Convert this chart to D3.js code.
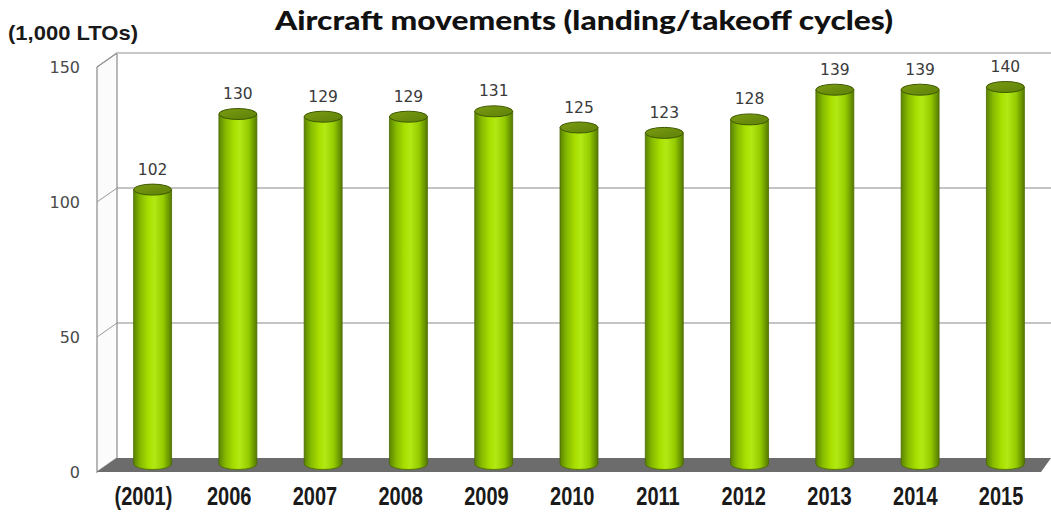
<!DOCTYPE html>
<html>
<head>
<meta charset="utf-8">
<script src="https://cdn.jsdelivr.net/npm/d3@7"></script>
<style>
  html, body { margin: 0; padding: 0; background: #fff; }
  svg { display: block; }
</style>
</head>
<body>
<svg id="chart" width="1051" height="515"></svg>
<script>
// Aircraft movements, thousands of landing/takeoff cycles per year
const years = ["(2001)", "2006", "2007", "2008", "2009", "2010", "2011", "2012", "2013", "2014", "2015"];
const ltos = [102, 130, 129, 129, 131, 125, 123, 128, 139, 139, 140];
const yTicks = [0, 50, 100, 150];

const svg = d3.select("#chart");
const W = 1051;

// depth offset of the 3D box (back wall relative to front edge)
const depthX = 20, depthY = -14;

// scale on the back wall
const yBack = d3.scaleLinear().domain([0, 150]).range([458, 53]);
// cylinders stand at mid depth
const yMid = v => yBack(v) - depthY / 2;
const x = d3.scaleBand().domain(years).range([110, 1048]).paddingInner(0.555).paddingOuter(0.277);
// category labels sit on the front edge of the floor
const xFront = d3.scaleBand().domain(years).range([100.6, 1043.9]);

const backLeft = 117, frontLeft = backLeft - depthX;

const defs = svg.append("defs");
const grad = defs.append("linearGradient").attr("id", "cyl").attr("x1", "0").attr("x2", "1").attr("y1", "0").attr("y2", "0");
[["0%", "#5c8400"], ["18%", "#86bb00"], ["40%", "#a9e000"], ["55%", "#b2e814"], ["78%", "#94cc00"], ["100%", "#557a00"]]
  .forEach(([o, c]) => grad.append("stop").attr("offset", o).attr("stop-color", c));
const capGrad = defs.append("linearGradient").attr("id", "cap").attr("x1", "0").attr("x2", "1").attr("y1", "0").attr("y2", "1");
[["0%", "#7a9c12"], ["100%", "#5e8008"]].forEach(([o, c]) => capGrad.append("stop").attr("offset", o).attr("stop-color", c));

// side wall (left)
svg.append("path")
  .attr("d", `M${frontLeft},${yBack(0) - depthY}L${frontLeft},${yBack(150) - depthY}L${backLeft},${yBack(150)}L${backLeft},${yBack(0)}Z`)
  .attr("fill", "#fbfbfb").attr("stroke", "#8a8a8a").attr("stroke-width", 1.2);

// back wall gridlines and diagonals on side wall
yTicks.forEach(t => {
  if (t > 0) {
    svg.append("line").attr("x1", backLeft).attr("x2", W).attr("y1", yBack(t)).attr("y2", yBack(t))
      .attr("stroke", t === 150 ? "#c8c8c8" : "#8a8a8a").attr("stroke-width", t === 150 ? 2 : 1.2);
    svg.append("line").attr("x1", frontLeft).attr("x2", backLeft).attr("y1", yBack(t) - depthY).attr("y2", yBack(t))
      .attr("stroke", "#9a9a9a").attr("stroke-width", 1);
  }
});

// floor
svg.append("path")
  .attr("d", `M${frontLeft},${yBack(0) - depthY}L${backLeft},${yBack(0)}L${W},${yBack(0)}L${W - 10},${yBack(0) - depthY}Z`)
  .attr("fill", "#6c6c6c");

// y tick labels
svg.append("g").selectAll("text").data(yTicks).join("text")
  .attr("x", 80).attr("y", d => yBack(d) - depthY + 6)
  .attr("text-anchor", "end")
  .attr("font-family", "DejaVu Sans, sans-serif").attr("font-size", 16).attr("fill", "#4a4a4a")
  .text(d => d);

// cylinders
const rx = x.bandwidth() / 2, ry = 5.5;
const g = svg.append("g").selectAll("g").data(years).join("g");
g.append("path")
  .attr("d", (d, i) => {
    const cx = x(d) + rx, top = yMid(ltos[i]), bot = yMid(0) - 1;
    return `M${cx - rx},${top}L${cx - rx},${bot}A${rx},${ry} 0 0 0 ${cx + rx},${bot}L${cx + rx},${top}Z`;
  })
  .attr("fill", "url(#cyl)").attr("stroke", "#4a6a00").attr("stroke-width", 0.8);
g.append("ellipse")
  .attr("cx", d => x(d) + rx).attr("cy", (d, i) => yMid(ltos[i]))
  .attr("rx", rx).attr("ry", ry)
  .attr("fill", "url(#cap)").attr("stroke", "#3e5800").attr("stroke-width", 1);

// value labels
g.append("text")
  .attr("x", d => x(d) + rx).attr("y", (d, i) => yMid(ltos[i]) - 15)
  .attr("text-anchor", "middle")
  .attr("font-family", "DejaVu Sans, sans-serif").attr("font-size", 15.5).attr("fill", "#3a3a3a")
  .text((d, i) => ltos[i]);

// category labels (narrow bold)
svg.append("g").selectAll("text").data(years).join("text")
  .attr("transform", d => `translate(${xFront(d) + xFront.bandwidth() / 2},505) scale(0.8,1)`)
  .attr("text-anchor", "middle")
  .attr("font-family", "Liberation Sans, Arial, sans-serif").attr("font-weight", "bold")
  .attr("font-size", 25).attr("fill", "#1a1a1a")
  .text(d => d);

// title and unit
svg.append("text")
  .attr("x", 275).attr("y", 30)
  .attr("textLength", 618).attr("lengthAdjust", "spacingAndGlyphs")
  .attr("font-family", "Lato, Open Sans, sans-serif").attr("font-weight", "900")
  .attr("font-size", 27).attr("fill", "#111")
  .text("Aircraft movements (landing/takeoff cycles)");
svg.append("text")
  .attr("x", 8).attr("y", 40)
  .attr("textLength", 130).attr("lengthAdjust", "spacingAndGlyphs")
  .attr("font-family", "Liberation Sans, Arial, sans-serif").attr("font-weight", "bold")
  .attr("font-size", 21).attr("fill", "#1a1a1a")
  .text("(1,000 LTOs)");
</script>
</body>
</html>
